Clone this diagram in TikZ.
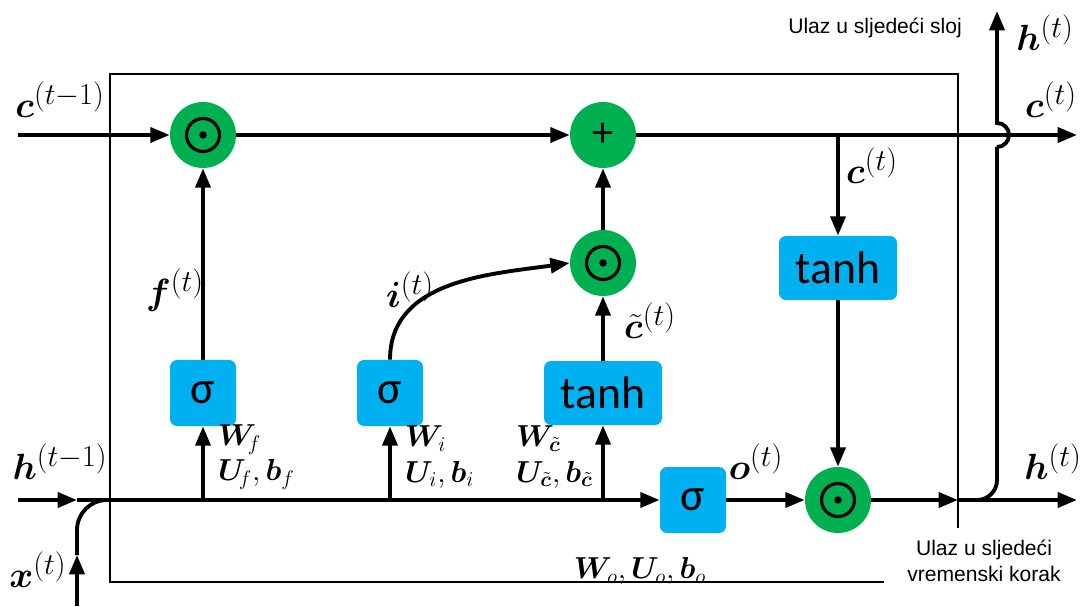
\documentclass[tikz,border=0pt]{standalone}
\usepackage{amsmath,bm}
\usepackage{fontspec}
\newfontfamily\boxfont{Carlito}
\newfontfamily\notefont{Liberation Sans}
\DeclareMathSizes{22}{22}{17}{13}
\DeclareMathSizes{17}{17}{13}{10}
\definecolor{lstmgreen}{RGB}{0,176,80}
\definecolor{lstmblue}{RGB}{0,176,240}
\usetikzlibrary{arrows.meta,positioning,calc}

\begin{document}
\begin{tikzpicture}[
    opbox/.style={rectangle, rounded corners=4pt, fill=lstmblue, inner sep=0pt,
                  minimum width=1.32cm, minimum height=1.32cm,
                  font=\boxfont\fontsize{26}{28}\selectfont},
    widebox/.style={opbox, minimum width=2.36cm, minimum height=1.28cm},
    mulnode/.style={circle, fill=lstmgreen, minimum size=1.32cm, inner sep=0pt,
                    path picture={
                      \draw[black, line width=1.8pt] (path picture bounding box.center) circle (0.33cm);
                      \fill[black] (path picture bounding box.center) circle (0.075cm);}},
    addnode/.style={circle, fill=lstmgreen, minimum size=1.32cm, inner sep=0pt,
                    font=\boxfont\fontsize{24}{26}\selectfont},
    wire/.style={line width=2.2pt},
    arr/.style={wire, -{Triangle[length=11pt,width=8.5pt]}},
    cellframe/.style={line width=1.1pt},
    vec/.style={font=\fontsize{22}{26}\selectfont},
    weights/.style={font=\fontsize{17}{20}\selectfont, align=left, inner sep=1pt},
    note/.style={font=\notefont\fontsize{12}{15}\selectfont, align=center}
  ]
  \useasboundingbox (0,0) rectangle (21.74,12.12);

  % cell frame
  \draw[cellframe] (19.16,1.56) -- (19.16,10.64) -- (2.2,10.64) -- (2.2,0.48) -- (17.68,0.48);

  % operations
  \node[mulnode] (fmul) at (4.06,9.42) {};
  \node[addnode] (cadd) at (12.06,9.42) {+};
  \node[mulnode] (imul) at (12.06,6.86) {};
  \node[widebox] (ctanh) at (16.76,6.76) {tanh};
  \node[opbox]   (fgate) at (4.06,4.26) {σ};
  \node[opbox]   (igate) at (7.80,4.26) {σ};
  \node[widebox] (cand)  at (12.06,4.26) {tanh};
  \node[opbox]   (ogate) at (13.86,2.12) {σ};
  \node[mulnode] (omul)  at (16.76,2.12) {};

  % free ends
  \coordinate (cin)     at (0.36,9.42);
  \coordinate (cout)    at (21.54,9.42);
  \coordinate (hin)     at (0.36,2.12);
  \coordinate (hmid)    at (1.54,2.12);
  \coordinate (hjoin)   at (2.2,2.12);
  \coordinate (xin)     at (1.54,0);
  \coordinate (xmid)    at (1.54,1.02);
  \coordinate (hcross)  at (19.16,2.12);
  \coordinate (hout)    at (21.54,2.12);
  \coordinate (hsplit)  at (19.3,2.12);
  \coordinate (hup)     at (19.94,11.9);
  \coordinate (jumpbot) at (19.94,9.18);
  \coordinate (cbranch) at (ctanh |- cin);

  % cell state
  \draw[arr] (cin) -- (fmul);
  \draw[arr] (fmul) -- (cadd);
  \draw[arr] (cadd) -- (cout);
  \draw[arr] (cbranch) -- (ctanh);
  \draw[arr] (ctanh) -- (omul);

  % gates
  \draw[arr] (fgate) -- (fmul);
  \draw[arr] (cand) -- (imul);
  \draw[arr] (imul) -- (cadd);
  \draw[arr] (igate.north) to[out=90,in=188] (imul.west);

  % hidden state and input
  \draw[arr] (hin) -- (hmid);
  \draw[arr] (xin) -- (xmid);
  \draw[wire, rounded corners=0.6cm] (xmid) -- (hmid) -- (hjoin);
  \draw[arr] (hmid) -- (ogate);
  \draw[arr] (fgate |- hin) -- (fgate);
  \draw[arr] (igate |- hin) -- (igate);
  \draw[arr] (cand |- hin) -- (cand);
  \draw[arr] (ogate) -- (omul);
  \draw[arr] (omul) -- (hcross);
  \draw[arr] (hcross) -- (hout);
  \draw[wire, rounded corners=0.4cm] (hsplit) -- (hup |- hin) -- (jumpbot);
  \draw[arr] (jumpbot) arc(-90:90:0.24) -- (hup);

  % labels
  \node[vec] (cprevlab)  at (1.2,10.12)  {$\bm{c}^{(t-1)}$};
  \node[vec] (hprevlab)  at (1.2,2.88)   {$\bm{h}^{(t-1)}$};
  \node[vec] (xlab)      at (0.76,0.72)  {$\bm{x}^{(t)}$};
  \node[vec] (flab)      at (3.5,6.32)   {$\bm{f}^{(t)}$};
  \node[vec] (ilab)      at (8.2,6.32)   {$\bm{i}^{(t)}$};
  \node[vec] (ctildelab) at (13.0,5.7)   {$\tilde{\bm{c}}^{(t)}$};
  \node[vec] (clab)      at (17.44,8.8)  {$\bm{c}^{(t)}$};
  \node[vec] (coutlab)   at (21.02,10.12) {$\bm{c}^{(t)}$};
  \node[vec] (huplab)    at (20.9,11.46) {$\bm{h}^{(t)}$};
  \node[vec] (olab)      at (15.12,2.88) {$\bm{o}^{(t)}$};
  \node[vec] (houtlab)   at (21.06,2.88) {$\bm{h}^{(t)}$};

  \node[weights, anchor=west] (fpar) at (4.32,2.98)  {$\bm{W}_{\!f}$\\$\bm{U}_{\!f},\bm{b}_f$};
  \node[weights, anchor=west] (ipar) at (8.06,2.98) {$\bm{W}_{i}$\\$\bm{U}_{i},\bm{b}_i$};
  \node[weights, anchor=east] (cpar) at (11.9,2.98) {$\bm{W}_{\tilde{\bm{c}}}$\\$\bm{U}_{\tilde{\bm{c}}},\bm{b}_{\tilde{\bm{c}}}$};
  \node[weights] (opar) at (12.8,0.7) {$\bm{W}_{o},\bm{U}_{o},\bm{b}_o$};

  \node[note] (layernote) at (17.5,11.56) {Ulaz u sljedeći sloj};
  \node[note] (stepnote)  at (19.68,0.9)  {Ulaz u sljedeći\\vremenski korak};
\end{tikzpicture}
\end{document}
